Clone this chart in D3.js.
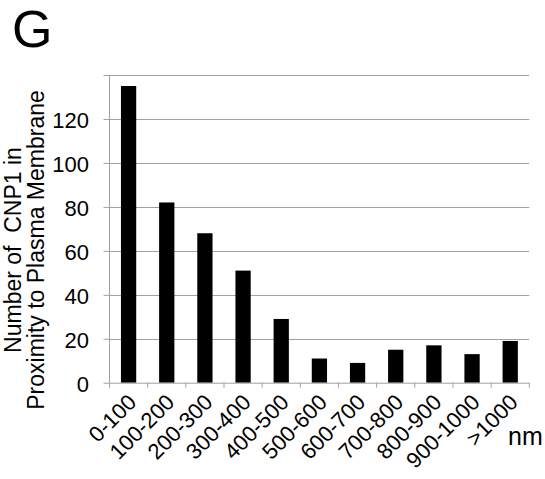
<!DOCTYPE html>
<html><head><meta charset="utf-8">
<script src="https://cdn.jsdelivr.net/npm/d3@7"></script>
<style>
body{margin:0;background:#fff;}
svg{display:block;font-family:"Liberation Sans",Arial,sans-serif;}
</style></head>
<body>
<svg id="c" width="545" height="479"></svg>
<script>
const categories = ["0-100","100-200","200-300","300-400","400-500","500-600","600-700","700-800","800-900","900-1000",">1000"];
const counts = [135, 82, 68, 51, 29, 11, 9, 15, 17, 13, 19];
const yTicks = [0, 20, 40, 60, 80, 100, 120];
const gridValues = [20, 40, 60, 80, 100, 120, 140];

const svg = d3.select("#c");
const pLeft = 109.5, pRight = 529.3, pTop = 75, pBottom = 382.7;

const x = d3.scaleBand().domain(categories).range([pLeft, pRight]).paddingInner(0.6).paddingOuter(0.3);
const xb = d3.scaleBand().domain(categories).range([pLeft, pRight]);
const y = d3.scaleLinear().domain([0, 140]).range([pBottom, pTop]);

// gridlines
svg.append("g").selectAll("line").data(gridValues).join("line")
  .attr("x1", pLeft).attr("x2", pRight)
  .attr("y1", d => Math.round(y(d)) + 0.5).attr("y2", d => Math.round(y(d)) + 0.5)
  .attr("stroke", "#a0a0a0").attr("stroke-width", 1);

// y axis
const yAxis = svg.append("g").attr("transform", `translate(${pLeft},0)`)
  .call(d3.axisLeft(y).tickValues(gridValues.concat([0])).tickSize(6).tickFormat(""));
yAxis.select(".domain").attr("stroke", "#a0a0a0").attr("d", `M0,${pTop}V${pBottom}`);
yAxis.selectAll(".tick line").attr("stroke", "#a0a0a0");

svg.append("g").selectAll("text").data(yTicks).join("text")
  .attr("x", 89).attr("y", d => y(d)).attr("dy", "0.4em")
  .attr("text-anchor", "end").attr("font-size", 22).attr("fill", "#000")
  .text(d => d);

// bars
svg.append("g").selectAll("rect").data(counts).join("rect")
  .attr("x", (d, i) => x(categories[i]))
  .attr("width", x.bandwidth())
  .attr("y", d => y(d))
  .attr("height", d => y(0) - y(d))
  .attr("fill", "#000");

// x axis
const xa = svg.append("g").attr("transform", `translate(0,${pBottom})`);
xa.append("line").attr("x1", pLeft).attr("x2", pRight).attr("y1", 0.5).attr("y2", 0.5).attr("stroke", "#a0a0a0");
const bounds = categories.map(c => xb(c)).concat([pRight]);
xa.selectAll("line.tk").data(bounds).join("line").attr("class", "tk")
  .attr("x1", d => d).attr("x2", d => d).attr("y1", 0).attr("y2", 5).attr("stroke", "#a0a0a0");

svg.append("g").selectAll("text").data(categories).join("text")
  .attr("transform", d => `translate(${x(d) + x.bandwidth() / 2 + 9},${pBottom + 21}) rotate(-45)`)
  .attr("text-anchor", "end").attr("font-size", 22).attr("fill", "#000")
  .text(d => d);

svg.append("text").attr("x", 508).attr("y", 445).attr("font-size", 25).attr("fill", "#000").text("nm");

// y title
const yt = svg.append("text").attr("transform", "translate(0,250) rotate(-90)")
  .attr("text-anchor", "middle").attr("font-size", 23).attr("fill", "#000")
  .style("white-space", "pre");
yt.append("tspan").attr("x", 0).attr("y", 21).text("Number of  CNP1 in");
yt.append("tspan").attr("x", 0).attr("y", 44).text("Proximity to Plasma Membrane");

// panel letter
svg.append("text").attr("x", 12).attr("y", 46.5).attr("font-size", 52).attr("fill", "#000").text("G");
</script>
</body></html>
